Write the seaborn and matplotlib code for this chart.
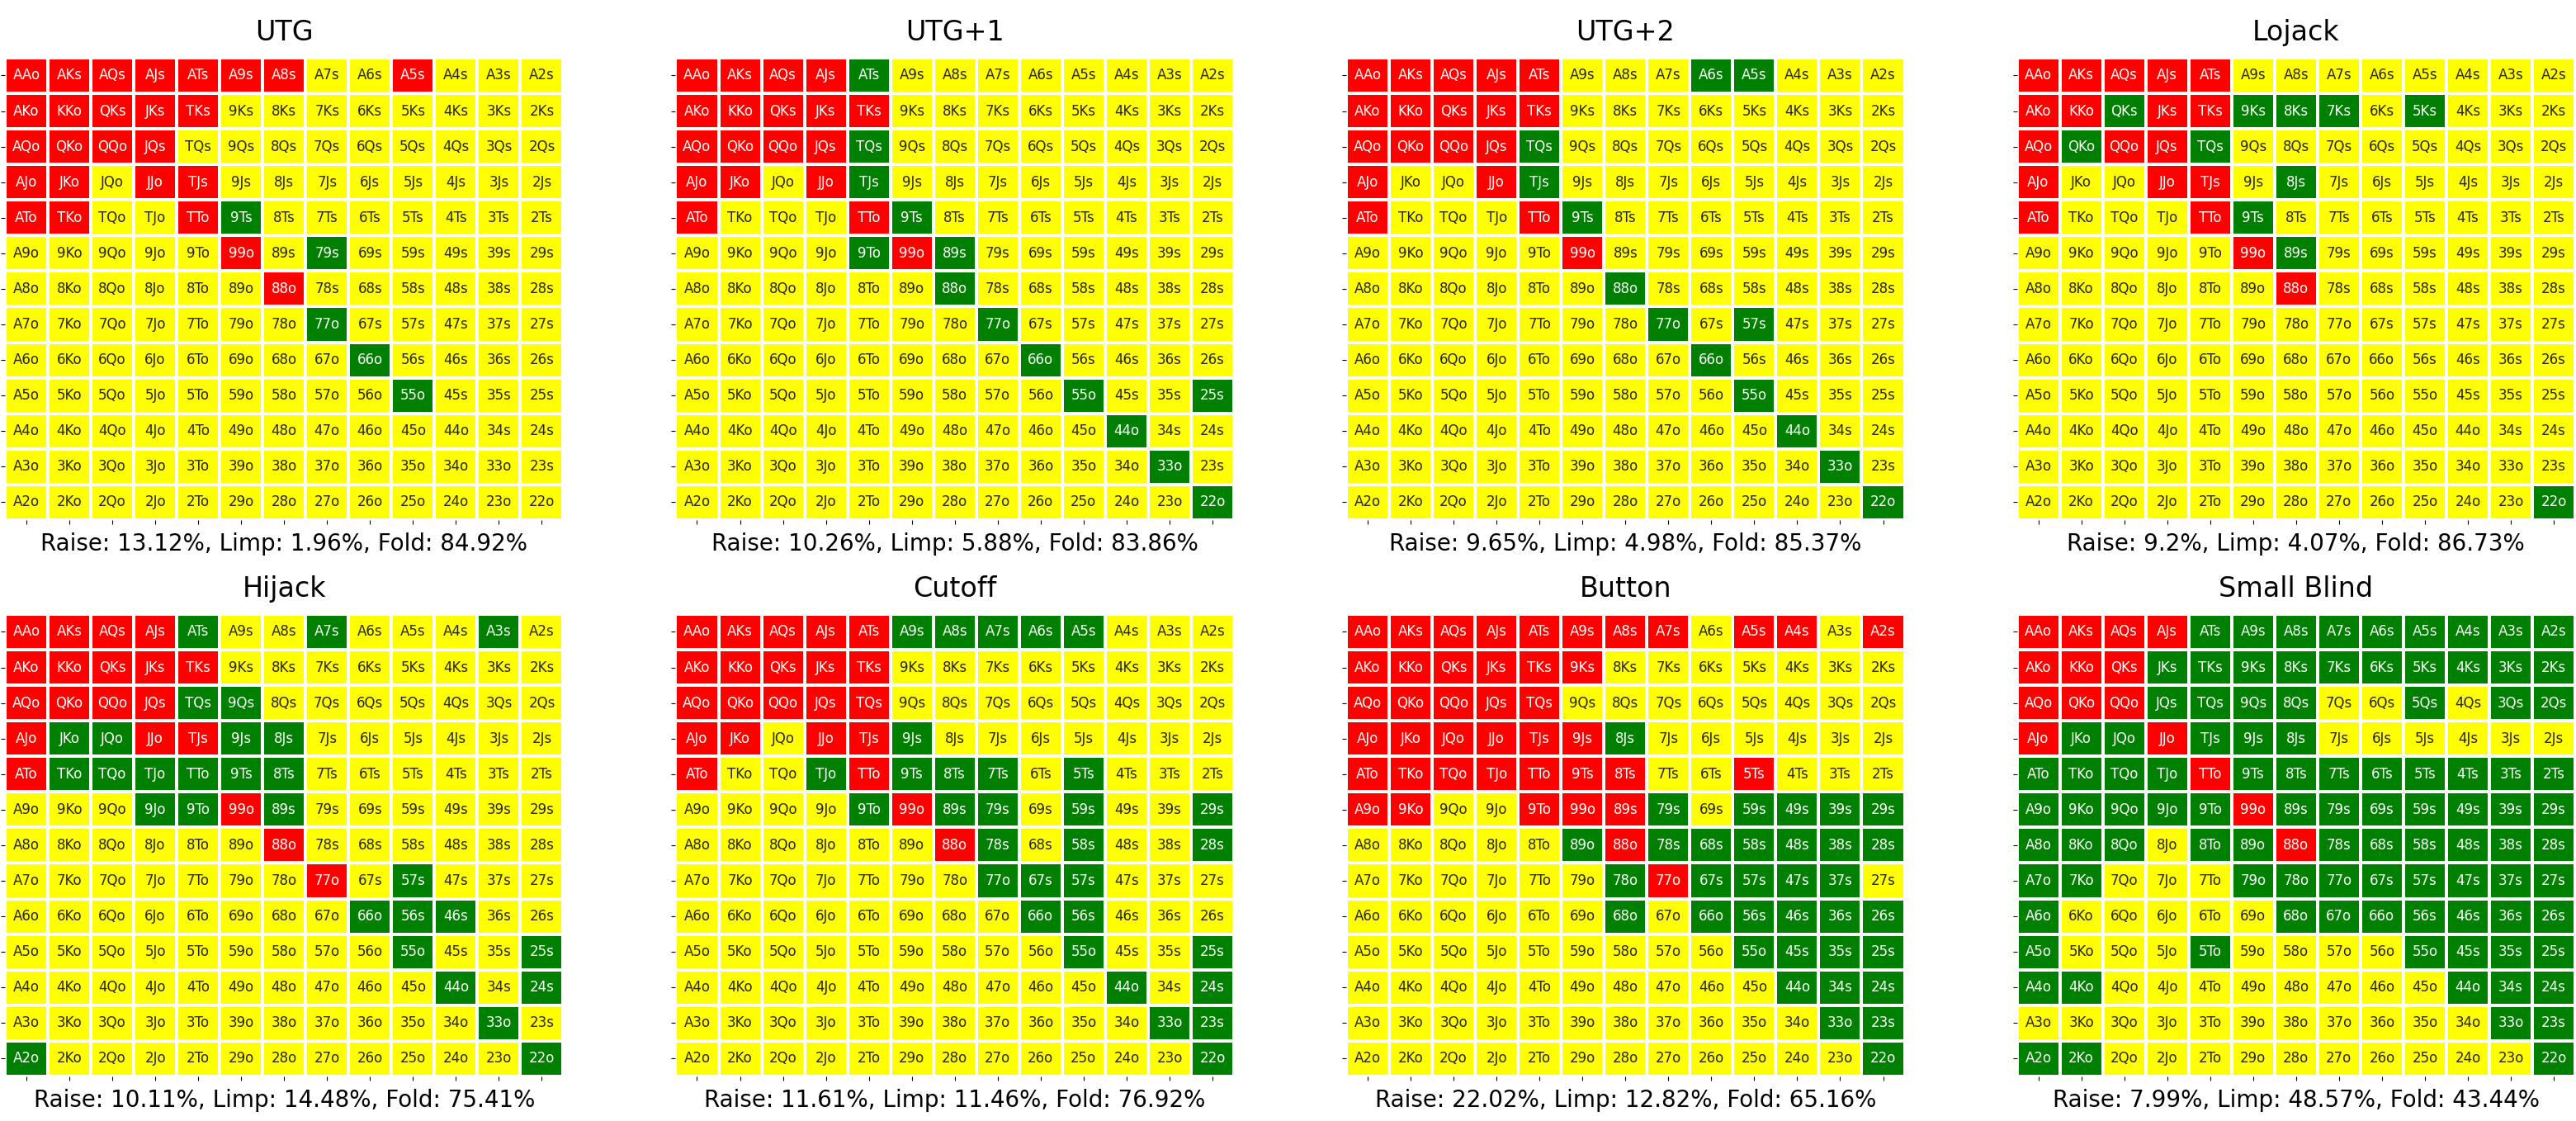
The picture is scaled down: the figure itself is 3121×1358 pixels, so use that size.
import numpy as np
import matplotlib
matplotlib.use("Agg")
import matplotlib.pyplot as plt
import seaborn as sns
from matplotlib.colors import ListedColormap

# ---------------- data ----------------
ranks = list("AKQJT98765432")
positions = ["UTG", "UTG+1", "UTG+2", "Lojack", "Hijack", "Cutoff", "Button", "Small Blind"]
# R = raise, L = limp, F = fold (rows/cols follow `ranks`)
utg = ["RRRRRRRFFRFFF", "RRRRRFFFFFFFF", "RRRRFFFFFFFFF", "RRFRRFFFFFFFF",
       "RRFFRLFFFFFFF", "FFFFFRFLFFFFF", "FFFFFFRFFFFFF", "FFFFFFFLFFFFF",
       "FFFFFFFFLFFFF", "FFFFFFFFFLFFF", "FFFFFFFFFFFFF", "FFFFFFFFFFFFF",
       "FFFFFFFFFFFFF"]
utg1 = ["RRRRLFFFFFFFF", "RRRRRFFFFFFFF", "RRRRLFFFFFFFF", "RRFRLFFFFFFFF",
        "RFFFRLFFFFFFF", "FFFFLRLFFFFFF", "FFFFFFLFFFFFF", "FFFFFFFLFFFFF",
        "FFFFFFFFLFFFF", "FFFFFFFFFLFFL", "FFFFFFFFFFLFF", "FFFFFFFFFFFLF",
        "FFFFFFFFFFFFL"]
utg2 = ["RRRRRFFFLLFFF", "RRRRRFFFFFFFF", "RRRRLFFFFFFFF", "RFFRLFFFFFFFF",
        "RFFFRLFFFFFFF", "FFFFFRFFFFFFF", "FFFFFFLFFFFFF", "FFFFFFFLFLFFF",
        "FFFFFFFFLFFFF", "FFFFFFFFFLFFF", "FFFFFFFFFFLFF", "FFFFFFFFFFFLF",
        "FFFFFFFFFFFFL"]
lojack = ["RRRRRFFFFFFFF", "RRLRRLLLFLFFF", "RLRRLFFFFFFFF", "RFFRRFLFFFFFF",
          "RFFFRLFFFFFFF", "FFFFFRLFFFFFF", "FFFFFFRFFFFFF", "FFFFFFFFFFFFF",
          "FFFFFFFFFFFFF", "FFFFFFFFFFFFF", "FFFFFFFFFFFFF", "FFFFFFFFFFFFF",
          "FFFFFFFFFFFFL"]
hijack = ["RRRRLFFLFFFLF", "RRRRRFFFFFFFF", "RRRRLLFFFFFFF", "RLLRRLLFFFFFF",
          "RLLLLLLFFFFFF", "FFFLLRLFFFFFF", "FFFFFFRFFFFFF", "FFFFFFFRFLFFF",
          "FFFFFFFFLLLFF", "FFFFFFFFFLFFL", "FFFFFFFFFFLFL", "FFFFFFFFFFFLF",
          "LFFFFFFFFFFFL"]
cutoff = ["RRRRRLLLLLFFF", "RRRRRFFFFFFFF", "RRRRRFFFFFFFF", "RRFRRLFFFFFFF",
          "RFFLRLLLFLFFF", "FFFFLRLLFLFFL", "FFFFFFRLFLFFL", "FFFFFFFLLLFFF",
          "FFFFFFFFLLFFF", "FFFFFFFFFLFFL", "FFFFFFFFFFLFL", "FFFFFFFFFFFLL",
          "FFFFFFFFFFFFL"]
button = ["RRRRRRRRFRRFR", "RRRRRRFFFFFFF", "RRRRRFFFFFFFF", "RRRRRRLFFFFFF",
          "RRRRRRRFFRFFF", "RRFFRRRLFLLLL", "FFFFFLRLLLLLL", "FFFFFFLRLLLLF",
          "FFFFFFLFLLLLL", "FFFFFFFFFLLLL", "FFFFFFFFFFLLL", "FFFFFFFFFFFLL",
          "FFFFFFFFFFFFL"]
small_blind = ["RRRRLLLLLLLLL", "RRRLLLLLLLLLL", "RRRLLLLFFLFLL", "RLLRLLLFFFFFF",
               "LLLLRLLLLLLLL", "LLLLLRLLLLLLL", "LLLFLLRLLLLLL", "LLFFFLLLLLLLL",
               "LFFFFFLLLLLLL", "LFFFLFFFFLLLL", "LLFFFFFFFFLLL", "FFFFFFFFFFFLL",
               "LLFFFFFFFFFFL"]
ranges = [utg, utg1, utg2, lojack, hijack, cutoff, button, small_blind]
action_codes = {"F": 0, "L": 1, "R": 2}
action_colors = ["yellow", "green", "red"]

# ---------------- helpers ----------------
def hand_label(i, j):
    if i == j:
        return ranks[i] + ranks[i] + "o"
    if i < j:
        return ("A" + ranks[j] if i == 0 else ranks[j] + ranks[i]) + "s"
    return ("A" + ranks[i] if j == 0 else ranks[i] + ranks[j]) + "o"

labels = np.array([[hand_label(i, j) for j in range(13)] for i in range(13)])

def combos(i, j):
    if i == j:
        return 6
    return 4 if i < j else 12

cmap = ListedColormap(action_colors)

fig, axes = plt.subplots(2, 4, figsize=(31.21, 13.58), dpi=100)
fig.subplots_adjust(left=0.0019, right=0.9997, top=0.9485, bottom=0.0398,
                    wspace=0.201, hspace=0.2036)

for ax, pos, rng in zip(axes.flat, positions, ranges):
    vals = np.array([[action_codes[c] for c in row] for row in rng])
    sns.heatmap(vals, ax=ax, cmap=cmap, vmin=-0.5, vmax=2.5, annot=labels, fmt="",
                cbar=False, linewidths=1.5, linecolor="white",
                annot_kws={"size": 12})
    r = sum(combos(i, j) for i in range(13) for j in range(13) if vals[i, j] == 2)
    l = sum(combos(i, j) for i in range(13) for j in range(13) if vals[i, j] == 1)
    f = 1326 - r - l
    ax.set_title(pos, fontsize=24, pad=15)
    ax.set_xlabel(f"Raise: {round(r / 1326 * 100, 2)}%, Limp: {round(l / 1326 * 100, 2)}%, "
                  f"Fold: {round(f / 1326 * 100, 2)}%", fontsize=20)
    ax.set_xticklabels([])
    ax.set_yticklabels([])

fig.savefig("out.png", dpi=100)
